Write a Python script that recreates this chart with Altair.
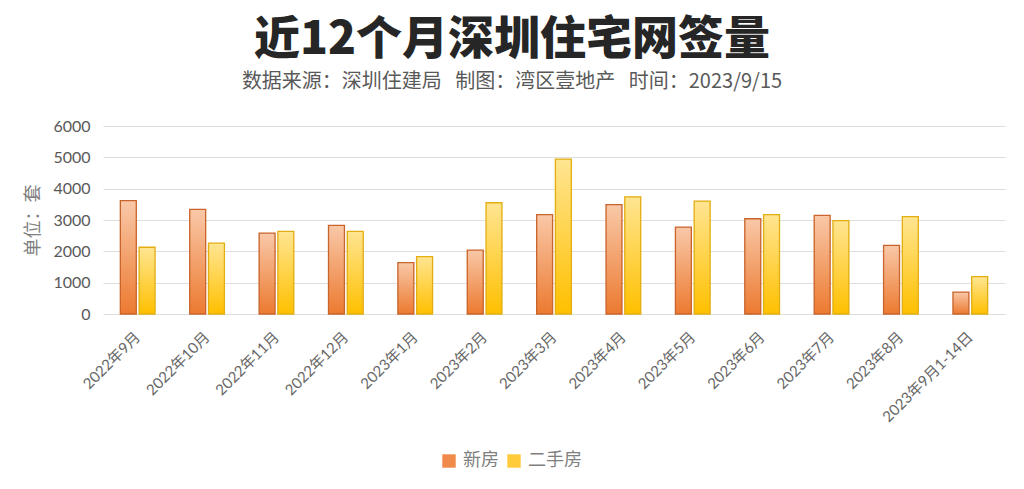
import altair as alt
import pandas as pd

months = ["2022年9月", "2022年10月", "2022年11月", "2022年12月", "2023年1月", "2023年2月",
          "2023年3月", "2023年4月", "2023年5月", "2023年6月", "2023年7月", "2023年8月",
          "2023年9月1-14日"]
new_homes = [3620, 3340, 2580, 2830, 1640, 2040, 3170, 3490, 2770, 3040, 3150, 2190, 700]
resale_homes = [2130, 2260, 2640, 2640, 1830, 3550, 4940, 3740, 3600, 3170, 2980, 3110, 1190]
series_names = ["新房", "二手房"]

rows = []
for m, a, b in zip(months, new_homes, resale_homes):
    rows.append({"month": m, "series": series_names[0], "value": a})
    rows.append({"month": m, "series": series_names[1], "value": b})
df = pd.DataFrame(rows)

LAB_FONT = "Lato, Noto Sans CJK SC, sans-serif"
CJK = "Noto Sans CJK SC"

x_enc = alt.X("month:N", sort=months, title=None,
              scale=alt.Scale(paddingInner=0.5, paddingOuter=0.25),
              axis=alt.Axis(labelAngle=-45, labelAlign="right", labelBaseline="middle",
                            labelPadding=20, domain=False, ticks=False, grid=False,
                            labelFont=LAB_FONT, labelFontSize=15, labelColor="#666666"))
xo_enc = alt.XOffset("series:N", sort=series_names,
                     scale=alt.Scale(domain=series_names, paddingInner=0.15))
y_enc = alt.Y("value:Q", title="单位：套",
              scale=alt.Scale(domain=[0, 6000]),
              axis=alt.Axis(values=[0, 1000, 2000, 3000, 4000, 5000, 6000], format="d",
                            domain=False, ticks=False, labelPadding=13, labelFont=LAB_FONT,
                            labelFontSize=16, labelColor="#595959",
                            gridColor="#dedede", gridWidth=1.2,
                            titleFont=CJK, titleFontSize=18, titleFontWeight="normal",
                            titleColor="#7f7f7f", titleX=-70, titleY=94,
                            titleAngle=-90, titleAlign="center", titleBaseline="middle"))

base = alt.Chart(df).encode(x=x_enc, xOffset=xo_enc, y=y_enc)

legend_layer = base.mark_bar(strokeWidth=0).encode(
    color=alt.Color("series:N", sort=series_names,
                    scale=alt.Scale(domain=series_names, range=["#F08A4B", "#FFCB3A"]),
                    legend=alt.Legend(title=None, orient="none", direction="horizontal",
                                      legendX=337, legendY=326, symbolType="square",
                                      symbolSize=180, symbolStrokeWidth=1,
                                      labelFont=CJK, labelFontSize=18, labelColor="#7f7f7f",
                                      columnPadding=6, labelOffset=5))
)

grad_orange = alt.LinearGradient(gradient="linear", x1=0, y1=0, x2=0, y2=1,
                                 stops=[alt.GradientStop(offset=0, color="#F9C8A8"),
                                        alt.GradientStop(offset=1, color="#EC7A30")])
grad_yellow = alt.LinearGradient(gradient="linear", x1=0, y1=0, x2=0, y2=1,
                                 stops=[alt.GradientStop(offset=0, color="#FFE592"),
                                        alt.GradientStop(offset=1, color="#FFC000")])

new_layer = base.transform_filter(alt.datum.series == series_names[0]).mark_bar(
    fill=grad_orange, stroke="#C8642C", strokeWidth=1.3)
resale_layer = base.transform_filter(alt.datum.series == series_names[1]).mark_bar(
    fill=grad_yellow, stroke="#E2AE12", strokeWidth=1.3)

chart = alt.layer(legend_layer, new_layer, resale_layer).properties(
    width=902, height=188,
    padding={"left": 103, "top": 126, "right": 19, "bottom": 175},
    autosize=alt.AutoSizeParams(type="none"),
    background="white",
    title=alt.TitleParams(
        text="近12个月深圳住宅网签量",
        subtitle="数据来源：深圳住建局\u00a0\u00a0\u00a0制图：湾区壹地产\u00a0\u00a0\u00a0时间：2023/9/15",
        anchor="middle", frame="group", dx=-42, offset=25,
        font=CJK, fontSize=46, fontWeight=900, color="#262626",
        subtitleFont=CJK, subtitleFontSize=20, subtitleColor="#595959",
        subtitlePadding=8),
).configure_view(stroke=None)

chart.save("out.html", embed_options={"renderer": "svg", "actions": False})
